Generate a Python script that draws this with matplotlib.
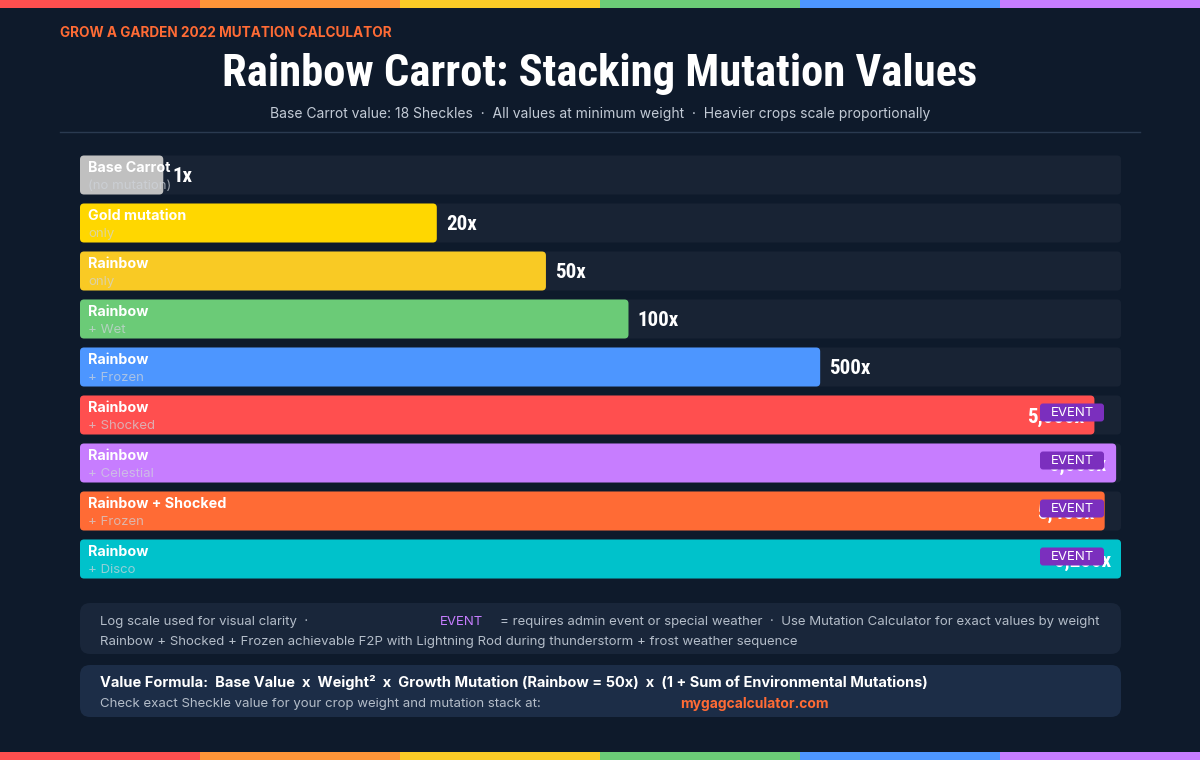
import numpy as np
import matplotlib
matplotlib.use("Agg")
import matplotlib.pyplot as plt
from matplotlib.patches import FancyBboxPatch, Rectangle
import matplotlib.transforms as mtransforms
from matplotlib import font_manager as fm

# ---- data ----
names = ["Base Carrot", "Gold mutation", "Rainbow", "Rainbow", "Rainbow",
         "Rainbow", "Rainbow", "Rainbow + Shocked", "Rainbow"]
subs = ["(no mutation)", "only", "only", "+ Wet", "+ Frozen",
        "+ Shocked", "+ Celestial", "+ Frozen", "+ Disco"]
multipliers = [1, 20, 50, 100, 500, 5000, 6000, 5450, 6250]
is_event = [False, False, False, False, False, True, True, True, True]
bar_colors = ["#C0C0C0", "#FFD700", "#F9CA24", "#6BCB77", "#4D96FF",
              "#FF4F4F", "#C77DFF", "#FF6B35", "#00C2CB"]
stripe_colors = ["#FF4F4F", "#FF9538", "#FBCB27", "#6BCB77", "#4D96FF", "#C77DFF"]

BG = "#0E1A2B"
TRACK = "#182334"
SANS = ["Inter", "DejaVu Sans"]
plt.rcParams["font.family"] = SANS

# pick the narrowest display family that is installed
installed = {f.name for f in fm.fontManager.ttflist}
narrow_cands = ["Roboto Condensed", "Liberation Sans Narrow", "DejaVu Sans Condensed",
                "Roboto", "Inter"]
NARROW = [next(c for c in narrow_cands if c in installed), "DejaVu Sans"]

W, H = 1200, 760
fig = plt.figure(figsize=(W / 100, H / 100), dpi=100, facecolor=BG)
renderer = fig.canvas.get_renderer()

# background canvas in pixel units
bg = fig.add_axes([0, 0, 1, 1])
bg.set_xlim(0, W)
bg.set_ylim(H, 0)
bg.axis("off")
bg.set_facecolor(BG)

# rainbow stripes top and bottom
for k, c in enumerate(stripe_colors):
    bg.add_patch(Rectangle((k * 200, 0), 200, 8, color=c, lw=0))
    bg.add_patch(Rectangle((k * 200, 752), 200, 8, color=c, lw=0))

bg.text(60, 33, "GROW A GARDEN 2022 MUTATION CALCULATOR", color="#FF6B35",
        fontsize=9.8, fontweight="bold", va="center", ha="left")
title = bg.text(600, 74, "Rainbow Carrot: Stacking Mutation Values", color="white",
                fontsize=34, fontweight="bold", va="center", ha="center", family=NARROW)
# fit the title to the reference width (~754 px)
tw = title.get_window_extent(renderer).width
title_fs = min(34 * 754 / tw, 38)
title.set_fontsize(title_fs)
value_fs = title_fs * 0.47

bg.text(600, 114, "Base Carrot value: 18 Sheckles  ·  All values at minimum weight  ·  "
        "Heavier crops scale proportionally", color="#C3CBD6", fontsize=10,
        va="center", ha="center")
bg.plot([60, 1140], [132, 132], color="#2A3A50", lw=1)

# footnote boxes
bg.add_patch(FancyBboxPatch((80, 603), 1041, 51, boxstyle="round,pad=0,rounding_size=10",
                            fc="#19263A", ec="none"))
bg.add_patch(FancyBboxPatch((80, 665), 1041, 52, boxstyle="round,pad=0,rounding_size=10",
                            fc="#1C2D47", ec="none"))
note_gray = "#B4BDC9"
bg.text(100, 622, "Log scale used for visual clarity  ·", color=note_gray, fontsize=9.5, va="center")
bg.text(440, 622, "EVENT", color="#C77DFF", fontsize=9.5, va="center")
bg.text(500, 622, "= requires admin event or special weather  ·  Use Mutation Calculator "
        "for exact values by weight", color=note_gray, fontsize=9.5, va="center")
bg.text(100, 642, "Rainbow + Shocked + Frozen achievable F2P with Lightning Rod during "
        "thunderstorm + frost weather sequence", color=note_gray, fontsize=9.5, va="center")
bg.text(100, 683, "Value Formula:  Base Value  x  Weight²  x  Growth Mutation (Rainbow = 50x)  x  "
        "(1 + Sum of Environmental Mutations)", color="white", fontsize=10.5,
        fontweight="bold", va="center")
bg.text(100, 704, "Check exact Sheckle value for your crop weight and mutation stack at:",
        color=note_gray, fontsize=9.5, va="center")
bg.text(680, 704, "mygagcalculator.com", color="#FF6B35", fontsize=10,
        fontweight="bold", va="center")

# ---- bar axes (log-scaled widths) ----
n = len(names)
left_px, right_px = 80, 1121
top_px = 151
pitch = 48
ax = fig.add_axes([left_px / W, 1 - (top_px + n * pitch) / H,
                   (right_px - left_px) / W, n * pitch / H])
ax.patch.set_alpha(0)
ax.axis("off")

logs = np.log10(multipliers)
xmax = logs.max()
frac = np.maximum(logs / xmax, 0.08)
widths = frac * xmax
ax.set_xlim(0, xmax)
ax.set_ylim(n - 0.5, -0.5)

bh = 39 / pitch
px_x = xmax / (right_px - left_px)      # data units per pixel, x
px_y = 1 / pitch                         # data units per pixel, y
aspect = px_y / px_x

for i in range(n):
    y0 = i - bh / 2
    ax.add_patch(FancyBboxPatch((0, y0), xmax, bh,
                                boxstyle=f"round,pad=0,rounding_size={4 * px_x}",
                                mutation_aspect=aspect, fc=TRACK, ec="none", zorder=1))
    ax.add_patch(FancyBboxPatch((0, y0), widths[i], bh,
                                boxstyle=f"round,pad=0,rounding_size={4 * px_x}",
                                mutation_aspect=aspect, fc=bar_colors[i], ec="none", zorder=2))
    ax.annotate(names[i], (0, i), xytext=(8, 7), textcoords="offset pixels",
                color="white", fontsize=10.3, fontweight="bold", va="center", ha="left", zorder=4)
    ax.annotate(subs[i], (0, i), xytext=(8, -11), textcoords="offset pixels",
                color="#D0D5DC", alpha=0.7, fontsize=9.5, va="center", ha="left", zorder=4)
    label = f"{multipliers[i]:,}x"
    inside = frac[i] > 0.9
    ax.annotate(label, (widths[i], i), xytext=(-10 if inside else 9, -2),
                textcoords="offset pixels", color="white", fontsize=value_fs,
                fontweight="bold", va="center", ha="right" if inside else "left",
                family=NARROW, zorder=4)

# EVENT badges (x in axes fraction, y in row units)
blend = mtransforms.blended_transform_factory(ax.transAxes, ax.transData)
span = right_px - left_px
bx0 = (1040 - left_px) / span
bw = 64 / span
for i in range(n):
    if not is_event[i]:
        continue
    by0 = i - bh / 2 + 8 * px_y
    ax.add_patch(FancyBboxPatch((bx0, by0), bw, 18 * px_y,
                                boxstyle=f"round,pad=0,rounding_size={3 / span}",
                                mutation_aspect=px_y * span,
                                transform=blend, fc="#7B2FBE", ec="none", zorder=5))
    ax.text(bx0 + bw / 2, by0 + 9.5 * px_y, "EVENT", transform=blend, color="white",
            fontsize=9.5, ha="center", va="center", zorder=6)

fig.savefig("out.png", dpi=100, facecolor=BG)
